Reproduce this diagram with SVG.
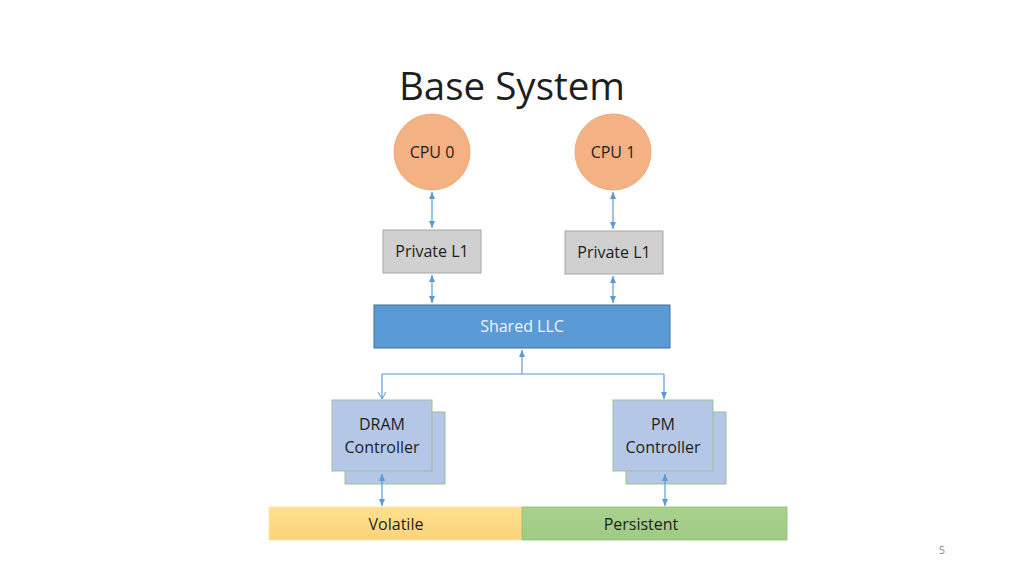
<svg xmlns="http://www.w3.org/2000/svg" width="1024" height="576" viewBox="0 0 1024 576">
<style>
text{font-family:"Open Sans","Liberation Sans",sans-serif;text-anchor:middle;fill:#1e1e1e}
.t{font-size:16px}
.cpu{fill:#f4b183;stroke:#f0a878;stroke-width:1}
.l1{fill:#d0d0d0;stroke:#a6a6a6;stroke-width:1}
.ctl{fill:#b4c7e7;stroke:#9fbf95;stroke-width:1}
.c{stroke:#5b9bd5;stroke-width:1.2;fill:none}
</style>
<defs>
<marker id="a" markerWidth="8" markerHeight="8" refX="7" refY="4" orient="auto-start-reverse" markerUnits="userSpaceOnUse"><path d="M0,1 L7,4 L0,7 Z" fill="#5b9bd5"/></marker>
<marker id="o" markerWidth="10" markerHeight="10" refX="8" refY="5" orient="auto" markerUnits="userSpaceOnUse"><path d="M1,1 L8,5 L1,9" fill="none" stroke="#5b9bd5" stroke-width="1"/></marker>
<linearGradient id="gy" x1="0" y1="0" x2="0" y2="1"><stop offset="0" stop-color="#ffe08e"/><stop offset="1" stop-color="#fcd37a"/></linearGradient>
<linearGradient id="gg" x1="0" y1="0" x2="0" y2="1"><stop offset="0" stop-color="#a9d18e"/><stop offset="1" stop-color="#9fcb84"/></linearGradient>
</defs>
<rect width="1024" height="576" fill="#fff"/>
<text x="512" y="100" style="font-size:38px" textLength="226" lengthAdjust="spacingAndGlyphs">Base System</text>
<g id="cpu0"><circle class="cpu" cx="432" cy="152" r="38"/><text class="t" x="432" y="158">CPU 0</text></g>
<g id="cpu1"><circle class="cpu" cx="613" cy="152" r="38"/><text class="t" x="613" y="158">CPU 1</text></g>
<g id="l1a"><rect class="l1" x="383" y="230" width="98" height="43"/><text class="t" x="432" y="257">Private L1</text></g>
<g id="l1b"><rect class="l1" x="565" y="231" width="98" height="43"/><text class="t" x="614" y="258">Private L1</text></g>
<g id="llc"><rect x="374" y="305" width="296" height="43" fill="#5b9bd5" stroke="#41719c"/><text class="t" x="522" y="332" style="fill:#f2f2f2">Shared LLC</text></g>
<g id="dram"><rect class="ctl" x="345" y="412" width="100" height="72"/><rect class="ctl" x="332" y="400" width="100" height="71"/><text class="t" x="382" y="430">DRAM</text><text class="t" x="382" y="453">Controller</text></g>
<g id="pm"><rect class="ctl" x="626" y="412" width="100" height="72"/><rect class="ctl" x="613" y="400" width="100" height="71"/><text class="t" x="663" y="430">PM</text><text class="t" x="663" y="453">Controller</text></g>
<g id="volatile"><rect x="269" y="507" width="253" height="33" fill="url(#gy)" stroke="#ffe6a8" stroke-width="0.8"/><text class="t" x="396" y="530">Volatile</text></g>
<g id="persistent"><rect x="522" y="507" width="265" height="33" fill="url(#gg)" stroke="#8fbf72" stroke-width="0.8"/><text class="t" x="641" y="530">Persistent</text></g>
<g id="connectors">
<line class="c" x1="432" y1="192" x2="432" y2="228" marker-start="url(#a)" marker-end="url(#a)"/>
<line class="c" x1="613" y1="192" x2="613" y2="229" marker-start="url(#a)" marker-end="url(#a)"/>
<line class="c" x1="432" y1="275" x2="432" y2="303" marker-start="url(#a)" marker-end="url(#a)"/>
<line class="c" x1="613" y1="276" x2="613" y2="303" marker-start="url(#a)" marker-end="url(#a)"/>
<line class="c" x1="522" y1="374" x2="522" y2="350" marker-end="url(#a)"/>
<path class="c" d="M382,374 H664"/>
<line class="c" x1="382" y1="374" x2="382" y2="399" marker-end="url(#o)"/>
<line class="c" x1="664" y1="374" x2="664" y2="399" marker-end="url(#a)"/>
<line class="c" x1="382" y1="474" x2="382" y2="506" marker-start="url(#a)" marker-end="url(#a)"/>
<line class="c" x1="665" y1="474" x2="665" y2="506" marker-start="url(#a)" marker-end="url(#a)"/>
</g>
<text x="942" y="554" style="font-size:11px;fill:#888">5</text>
</svg>
